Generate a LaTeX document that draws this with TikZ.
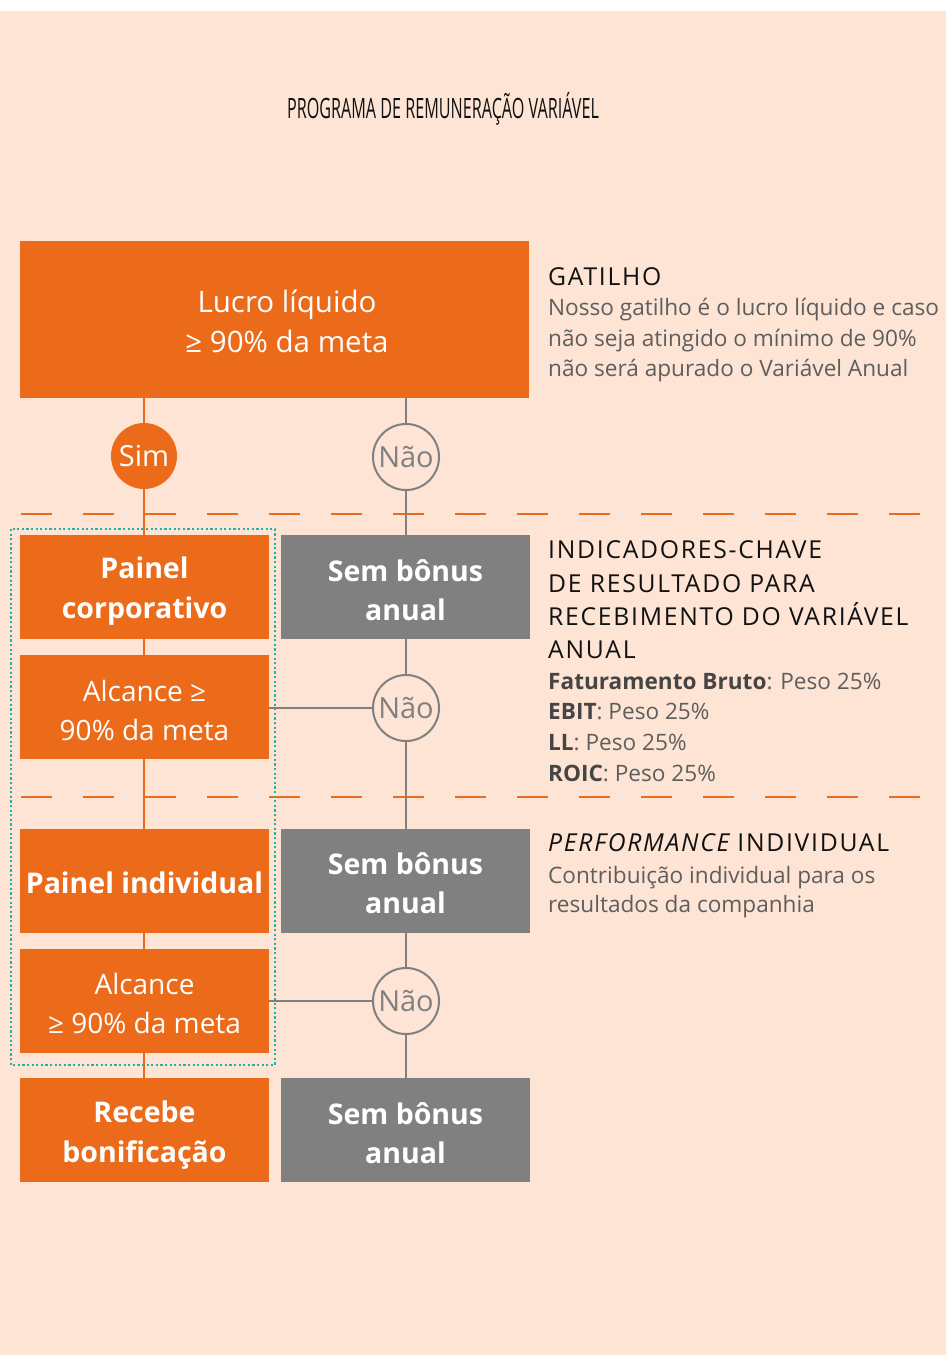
\documentclass[tikz,border=0pt]{standalone}
\usepackage{fontspec}
\setmainfont{Open Sans}
\newfontfamily\capsf[LetterSpace=7]{Open Sans}
\usepackage{graphicx}
\definecolor{bg}{HTML}{FDE4D4}
\definecolor{orng}{HTML}{EC6B1A}
\definecolor{boxgray}{HTML}{808080}
\definecolor{lgray}{HTML}{808080}
\definecolor{bodyc}{HTML}{5E5E5E}
\definecolor{labc}{HTML}{454545}
\definecolor{headc}{HTML}{111111}
\definecolor{teal}{HTML}{1DB3A5}
\tikzset{
  obox/.style={fill=orng, inner sep=0pt, minimum width=249pt, minimum height=104pt},
  gbox/.style={fill=boxgray, inner sep=0pt, minimum width=249pt, minimum height=104pt},
  lightt/.style={text=white, align=center, inner sep=0pt, font=\fontsize{28}{39}\selectfont},
  boldt/.style={text=white, align=center, inner sep=0pt, font=\bfseries\fontsize{28.5}{39.5}\selectfont},
  simc/.style={circle, fill=orng, text=white, minimum size=66pt, inner sep=0pt, font=\fontsize{29}{30}\selectfont},
  naoc/.style={circle, draw=lgray, line width=2pt, fill=bg, text=lgray, minimum size=66pt, inner sep=0pt, font=\fontsize{29}{30}\selectfont},
  oline/.style={draw=orng, line width=2.6pt},
  gline/.style={draw=lgray, line width=2.4pt},
  sepline/.style={draw=orng, line width=2.2pt, dash pattern=on 31pt off 31pt},
  headt/.style={anchor=base west, inner sep=0pt, text=headc, font=\capsf\fontsize{24.7}{30}\selectfont},
  bodyt/.style={anchor=base west, inner sep=0pt, text=bodyc, font=\fontsize{22.6}{30}\selectfont},
}
\begin{document}
\begin{tikzpicture}[x=1pt,y=-1pt]
\fill[white] (0,0) rectangle (946,1355);
\fill[bg] (0,11) rectangle (946,1355);
\useasboundingbox (0,0) rectangle (946,1355);

% title
\node[anchor=base, inner sep=0pt, text=headc, font=\fontsize{28}{30}\selectfont] (title) at (443,118) {\scalebox{0.577}[1]{PROGRAMA DE REMUNERAÇÃO VARIÁVEL}};

% separators
\coordinate (s1a) at (21,514); \coordinate (s1b) at (925,514);
\coordinate (s2a) at (21,797); \coordinate (s2b) at (925,797);
\draw[sepline] (s1a) -- (s1b);
\draw[sepline] (s2a) -- (s2b);

% teal dotted frame
\coordinate (f1) at (11,529); \coordinate (f2) at (275,1065);
\draw[teal, line width=2.6pt, dash pattern=on 2.2pt off 2.4pt] (f1) rectangle (f2);

% boxes
\node[obox, minimum width=509pt, minimum height=157pt] (top) at (274.5,319.5) {};
\node[obox] (pc) at (144.5,587) {};
\node[gbox] (sb1) at (405.5,587) {};
\node[obox] (al1) at (144.5,707) {};
\node[obox] (pi) at (144.5,881) {};
\node[gbox] (sb2) at (405.5,881) {};
\node[obox] (al2) at (144.5,1001) {};
\node[obox] (rb) at (144.5,1130) {};
\node[gbox] (sb3) at (405.5,1130) {};

% box texts
\node[lightt, font=\fontsize{29.5}{40}\selectfont] (topt) at (287,321) {Lucro líquido\\≥ 90\% da meta};
\node[boldt] (pct) at (144.5,591) {Painel\\corporativo};
\node[boldt] (sb1t) at (405.5,590) {Sem bônus\\anual};
\node[lightt] (al1t) at (144.5,710) {Alcance ≥\\90\% da meta};
\node[boldt] (pit) at (144.5,883) {Painel individual};
\node[boldt] (sb2t) at (405.5,883) {Sem bônus\\anual};
\node[lightt] (al2t) at (144.5,1003) {Alcance\\≥ 90\% da meta};
\node[boldt] (rbt) at (144.5,1135) {Recebe\\bonificação};
\node[boldt] (sb3t) at (405.5,1133) {Sem bônus\\anual};

% circles
\node[simc] (sim) at (144,456) {Sim};
\node[naoc] (n1) at (406,457) {Não};
\node[naoc] (n2) at (406,708) {Não};
\node[naoc] (n3) at (406,1001) {Não};

% orange connectors
\draw[oline] (sim |- top.south) -- (sim.north);
\draw[oline] (sim.south) -- (pc.north -| sim);
\draw[oline] (pc.south -| sim) -- (al1.north -| sim);
\draw[oline] (al1.south -| sim) -- (pi.north -| sim);
\draw[oline] (pi.south -| sim) -- (al2.north -| sim);
\draw[oline] (al2.south -| sim) -- (rb.north -| sim);

% gray connectors
\draw[gline] (n1 |- top.south) -- (n1.north);
\draw[gline] (n1.south) -- (sb1.north -| n1);
\draw[gline] (sb1.south -| n2) -- (n2.north);
\draw[gline] (n2.south) -- (sb2.north -| n2);
\draw[gline] (al1.east |- n2) -- (n2.west);
\draw[gline] (sb2.south -| n3) -- (n3.north);
\draw[gline] (n3.south) -- (sb3.north -| n3);
\draw[gline] (al2.east |- n3) -- (n3.west);

% right column text
\node[headt] (g0) at (548,285) {GATILHO};
\node[bodyt] (g1) at (548,315) {Nosso gatilho é o lucro líquido e caso};
\node[bodyt] (g2) at (548,346) {não seja atingido o mínimo de 90\%};
\node[bodyt] (g3) at (548,376) {não será apurado o Variável Anual};

\node[headt] (i0) at (548,558) {INDICADORES-CHAVE};
\node[headt] (i1) at (548,592) {DE RESULTADO PARA};
\node[headt] (i2) at (548,625) {RECEBIMENTO DO VARIÁVEL};
\node[headt] (i3) at (548,658) {ANUAL};
\node[bodyt] (k1) at (548,689) {\textcolor{labc}{\bfseries Faturamento Bruto}: Peso 25\%};
\node[bodyt] (k2) at (548,719) {\textcolor{labc}{\bfseries EBIT}: Peso 25\%};
\node[bodyt] (k3) at (548,750) {\textcolor{labc}{\bfseries LL}: Peso 25\%};
\node[bodyt] (k4) at (548,781) {\textcolor{labc}{\bfseries ROIC}: Peso 25\%};

\node[headt] (p0) at (548,851) {\itshape PERFORMANCE\upshape\ INDIVIDUAL};
\node[bodyt] (p1) at (548,883) {Contribuição individual para os};
\node[bodyt] (p2) at (548,912) {resultados da companhia};
\end{tikzpicture}
\end{document}
